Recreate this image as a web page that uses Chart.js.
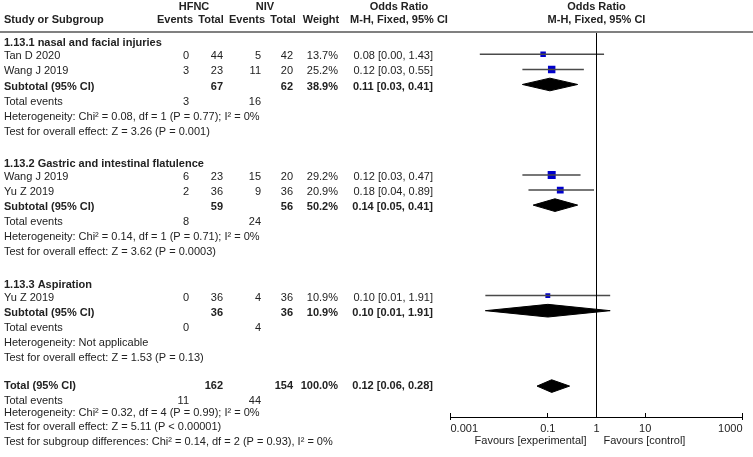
<!DOCTYPE html>
<html>
<head>
<meta charset="utf-8">
<script src="https://cdn.jsdelivr.net/npm/chart.js@4"></script>
<style>
  html, body { margin: 0; padding: 0; background: #fff; }
</style>
</head>
<body>
<canvas id="forestChart" width="753" height="457"></canvas>
<script>
// study level data
const studies = ['Tan D 2020', 'Wang J 2019', 'Wang J 2019', 'Yu Z 2019', 'Yu Z 2019'];
const studyGroup = [0, 0, 1, 1, 2];
const hfncEvents = [0, 3, 6, 2, 0];
const hfncTotal = [44, 23, 23, 36, 36];
const nivEvents = [5, 11, 15, 9, 4];
const nivTotal = [42, 20, 20, 36, 36];
const weights = [13.7, 25.2, 29.2, 20.9, 10.9];
const oddsRatio = [0.08, 0.12, 0.12, 0.18, 0.10];
const ciLower = [0.004, 0.03, 0.03, 0.04, 0.0052];
const ciUpper = [1.43, 0.55, 0.47, 0.89, 1.91];

// subgroups
const groupNames = ['1.13.1 nasal and facial injuries', '1.13.2 Gastric and intestinal flatulence', '1.13.3 Aspiration'];
const subHfncEvents = [3, 8, 0];
const subNivEvents = [16, 24, 4];
const subHfncTotal = [67, 59, 36];
const subNivTotal = [62, 56, 36];
const subWeights = [38.9, 50.2, 10.9];
const subOddsRatio = [0.11, 0.14, 0.10];
const subLower = [0.03, 0.05, 0.0052];
const subUpper = [0.41, 0.41, 1.91];
const subHeterogeneity = [
  'Heterogeneity: Chi² = 0.08, df = 1 (P = 0.77); I² = 0%',
  'Heterogeneity: Chi² = 0.14, df = 1 (P = 0.71); I² = 0%',
  'Heterogeneity: Not applicable'
];
const subEffect = [
  'Test for overall effect: Z = 3.26 (P = 0.001)',
  'Test for overall effect: Z = 3.62 (P = 0.0003)',
  'Test for overall effect: Z = 1.53 (P = 0.13)'
];

// overall
const totalEvents = [11, 44];
const totalN = [162, 154];
const totalWeight = 100.0;
const totalOR = [0.12, 0.06, 0.28];
const totalNotes = [
  'Heterogeneity: Chi² = 0.32, df = 4 (P = 0.99); I² = 0%',
  'Test for overall effect: Z = 5.11 (P < 0.00001)',
  'Test for subgroup differences: Chi² = 0.14, df = 2 (P = 0.93), I² = 0%'
];

const tickValues = [0.001, 0.1, 1, 10, 1000];
const tickLabels = ['0.001', '0.1', '1', '10', '1000'];

const FONT = '"Liberation Sans", Arial, sans-serif';
const TEXT = '#222';
const COL = { he: 189, ht: 223, ne: 261, nt: 293, w: 338, ci: 433 };
const Y_MIN = -0.48, Y_MAX = 25.05;

const fmtCI = (o, l, h) => o.toFixed(2) + ' [' + l.toFixed(2) + ', ' + h.toFixed(2) + ']';

// build table rows (r = row on the y scale, off = small text nudge in px)
const rows = [];
const studyRow = [];
const subRow = [];
let r = 0;
groupNames.forEach((name, g) => {
  rows.push({ r: r++, off: 4, cells: [[name, 4, 'left', true]] });
  studies.forEach((s, i) => {
    if (studyGroup[i] !== g) return;
    studyRow[i] = r;
    rows.push({ r: r++, off: 2, cells: [
      [s, 4, 'left'],
      [String(hfncEvents[i]), COL.he, 'right'],
      [String(hfncTotal[i]), COL.ht, 'right'],
      [String(nivEvents[i]), COL.ne, 'right'],
      [String(nivTotal[i]), COL.nt, 'right'],
      [weights[i].toFixed(1) + '%', COL.w, 'right'],
      [fmtCI(oddsRatio[i], ciLower[i], ciUpper[i]), COL.ci, 'right']
    ] });
  });
  subRow[g] = r;
  rows.push({ r: r++, off: 2, cells: [
    ['Subtotal (95% CI)', 4, 'left', true],
    [String(subHfncTotal[g]), COL.ht, 'right', true],
    [String(subNivTotal[g]), COL.nt, 'right', true],
    [subWeights[g].toFixed(1) + '%', COL.w, 'right', true],
    [fmtCI(subOddsRatio[g], subLower[g], subUpper[g]), COL.ci, 'right', true]
  ] });
  rows.push({ r: r++, off: 2, cells: [
    ['Total events', 4, 'left'],
    [String(subHfncEvents[g]), COL.he, 'right'],
    [String(subNivEvents[g]), COL.ne, 'right']
  ] });
  rows.push({ r: r++, off: 2, cells: [[subHeterogeneity[g], 4, 'left']] });
  rows.push({ r: r++, off: 2, cells: [[subEffect[g], 4, 'left']] });
  r++;
});
const totalRow = r;
rows.push({ r: r++, off: 0, cells: [
  ['Total (95% CI)', 4, 'left', true],
  [String(totalN[0]), COL.ht, 'right', true],
  [String(totalN[1]), COL.nt, 'right', true],
  [totalWeight.toFixed(1) + '%', COL.w, 'right', true],
  [fmtCI(totalOR[0], totalOR[1], totalOR[2]), COL.ci, 'right', true]
] });
rows.push({ r: r++, off: 0, cells: [
  ['Total events', 4, 'left'],
  [String(totalEvents[0]), COL.he, 'right'],
  [String(totalEvents[1]), COL.ne, 'right']
] });
const noteOffsets = [-3, -4, -4];
totalNotes.forEach((t, k) => rows.push({ r: r++, off: noteOffsets[k], cells: [[t, 4, 'left']] }));

// datasets
const datasets = [];
datasets.push({
  data: [{ x: 1, y: Y_MIN }, { x: 1, y: Y_MAX }],
  borderColor: '#000', borderWidth: 1, pointRadius: 0
});
studies.forEach((s, i) => {
  datasets.push({
    data: [{ x: ciLower[i], y: studyRow[i] }, { x: ciUpper[i], y: studyRow[i] }],
    borderColor: '#4a4a4a', borderWidth: 1.5, pointRadius: 0
  });
});
datasets.push({
  data: studies.map((s, i) => ({ x: oddsRatio[i], y: studyRow[i] })),
  showLine: false,
  pointStyle: 'rect',
  pointRadius: weights.map(w => Math.sqrt(w) * 1.05),
  backgroundColor: '#0000cc',
  borderColor: '#0000cc',
  borderWidth: 0
});
const diamond = (o, l, h, row) => ({
  data: [{ x: l, y: row }, { x: o, y: row - 0.42 }, { x: h, y: row }, { x: o, y: row + 0.42 }, { x: l, y: row }],
  borderColor: '#000', borderWidth: 1, backgroundColor: '#000', fill: 'shape', pointRadius: 0
});
groupNames.forEach((n, g) => datasets.push(diamond(subOddsRatio[g], subLower[g], subUpper[g], subRow[g])));
datasets.push(diamond(totalOR[0], totalOR[1], totalOR[2], totalRow));

const tablePlugin = {
  id: 'forestTable',
  afterDraw(chart) {
    const ctx = chart.ctx;
    const y = chart.scales.y;
    const x = chart.scales.x;
    const axisY = chart.chartArea.bottom;
    ctx.save();
    ctx.fillStyle = '#808080';
    ctx.fillRect(0, 31, 753, 2);

    // tick marks on the axis
    ctx.strokeStyle = '#000';
    ctx.lineWidth = 1;
    tickValues.forEach((v, k) => {
      const px = Math.floor(x.getPixelForValue(v)) + 0.5;
      const end = k === 0 || k === tickValues.length - 1;
      ctx.beginPath();
      ctx.moveTo(px, axisY - 4);
      ctx.lineTo(px, axisY + (end ? 3 : 0));
      ctx.stroke();
    });

    ctx.fillStyle = TEXT;
    ctx.textBaseline = 'middle';
    const put = (s, px, py, align, bold) => {
      ctx.font = (bold ? 'bold ' : '') + '11px ' + FONT;
      ctx.textAlign = align;
      ctx.fillText(s, px, py);
    };
    // headers
    const mid = x.getPixelForValue(1);
    put('HFNC', 194, 7, 'center', true);
    put('NIV', 265, 7, 'center', true);
    put('Odds Ratio', 399, 7, 'center', true);
    put('Odds Ratio', mid, 7, 'center', true);
    put('Study or Subgroup', 4, 20, 'left', true);
    put('Events', 175, 20, 'center', true);
    put('Total', 211, 20, 'center', true);
    put('Events', 247, 20, 'center', true);
    put('Total', 283, 20, 'center', true);
    put('Weight', 321, 20, 'center', true);
    put('M-H, Fixed, 95% CI', 399, 20, 'center', true);
    put('M-H, Fixed, 95% CI', mid, 20, 'center', true);

    rows.forEach(row => {
      const py = y.getPixelForValue(row.r) + row.off;
      row.cells.forEach(c => put(c[0], c[1], py, c[2], c[3]));
    });

    // favours labels
    put('Favours [experimental]', mid - 10, 441, 'right', false);
    put('Favours [control]', mid + 7, 441, 'left', false);
    ctx.restore();
  }
};

new Chart(document.getElementById('forestChart'), {
  type: 'line',
  data: { datasets },
  plugins: [tablePlugin],
  options: {
    responsive: false,
    animation: false,
    events: [],
    layout: { padding: { left: 450.5, right: 10.5, top: 32, bottom: 0 } },
    plugins: { legend: { display: false }, tooltip: { enabled: false } },
    scales: {
      x: {
        type: 'logarithmic',
        min: 0.001,
        max: 1000,
        afterBuildTicks: s => { s.ticks = tickValues.map(v => ({ value: v })); },
        afterFit: s => { s.height = 40; s.paddingLeft = 0; s.paddingRight = 0; },
        ticks: {
          autoSkip: false,
          maxRotation: 0,
          align: 'inner',
          padding: 5,
          color: TEXT,
          font: { family: FONT, size: 11 },
          callback: v => tickLabels[tickValues.indexOf(v)]
        },
        grid: { drawOnChartArea: false, drawTicks: false, color: '#000' },
        border: { color: '#000', width: 1 }
      },
      y: {
        type: 'linear',
        display: false,
        reverse: true,
        min: Y_MIN,
        max: Y_MAX
      }
    }
  }
});
</script>
</body>
</html>
